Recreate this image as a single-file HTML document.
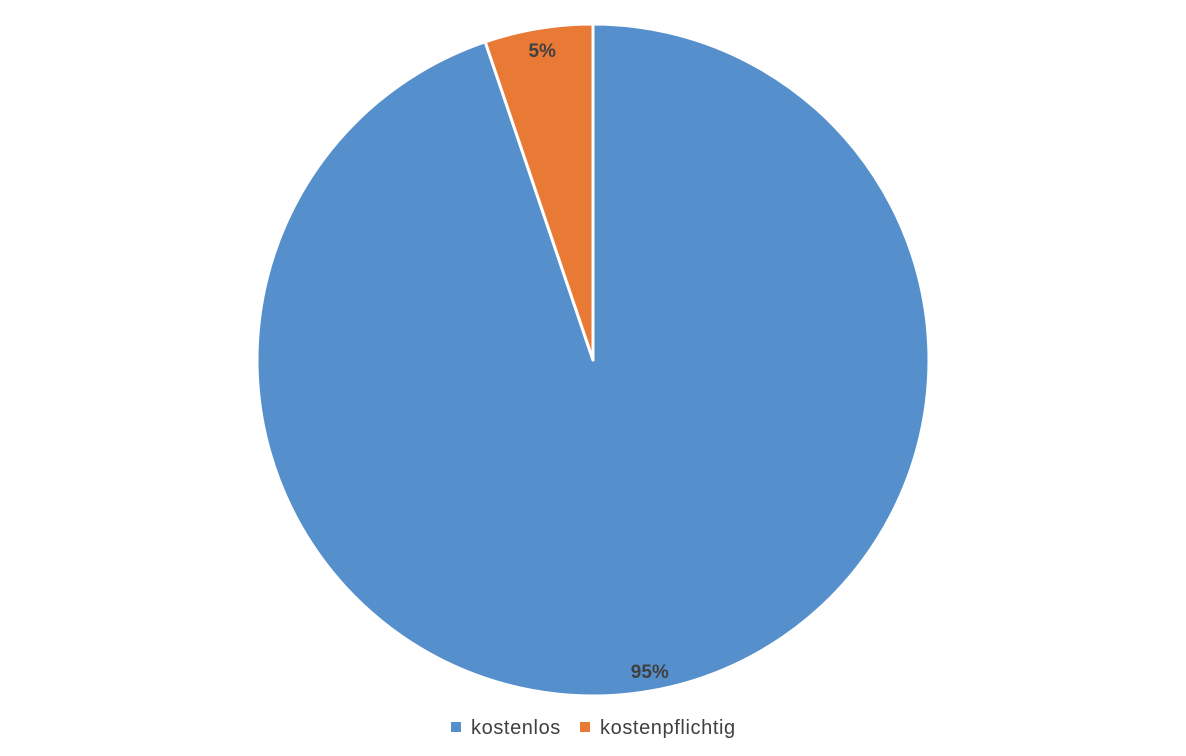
<!DOCTYPE html>
<html><head><meta charset="utf-8"><style>
body{margin:0;background:#fff;width:1186px;height:751px;overflow:hidden;font-family:"Liberation Sans",sans-serif}
</style></head><body>
<svg id="chart" width="1186" height="751" xmlns="http://www.w3.org/2000/svg"></svg>
<script>
const categories = ["kostenlos", "kostenpflichtig"];
const values = [94.8, 5.2];
const labels = ["95%", "5%"];
const colors = ["#558fcc", "#e97a36"];
const svg = document.getElementById('chart');
const NS = "http://www.w3.org/2000/svg";
const cx = 593, cy = 360, r = 336;
const total = values.reduce((a, b) => a + b, 0);
let start = 0;
function pt(frac, rad) {
  const a = frac * 2 * Math.PI - Math.PI / 2;
  return [cx + rad * Math.cos(a), cy + rad * Math.sin(a)];
}
const labelOffset = [[6, 4], [0, 0]];
values.forEach((v, i) => {
  const f0 = start / total, f1 = (start + v) / total;
  const p0 = pt(f0, r), p1 = pt(f1, r);
  const large = (f1 - f0) > 0.5 ? 1 : 0;
  const path = document.createElementNS(NS, 'path');
  path.setAttribute('d', `M${cx},${cy} L${p0[0]},${p0[1]} A${r},${r} 0 ${large} 1 ${p1[0]},${p1[1]} Z`);
  path.setAttribute('fill', colors[i]);
  path.setAttribute('stroke', '#fff');
  path.setAttribute('stroke-width', '3');
  path.setAttribute('stroke-linejoin', 'round');
  
  
  svg.appendChild(path);
  const mid = (f0 + f1) / 2;
  const lp = pt(mid, r * 0.93);
  const t = document.createElementNS(NS, 'text');
  t.setAttribute('x', lp[0] + labelOffset[i][0]);
  t.setAttribute('y', lp[1] + labelOffset[i][1]);
  t.setAttribute('text-anchor', 'middle');
  t.setAttribute('dominant-baseline', 'central');
  t.setAttribute('font-size', '19');
  t.setAttribute('font-weight', 'bold');
  t.setAttribute('fill', '#404040');
  
  
  t.textContent = labels[i];
  svg.appendChild(t);
  start += v;
});
const legendX = [451, 580];
categories.forEach((c, i) => {
  const g = document.createElementNS(NS, 'g');
  
  
  const rect = document.createElementNS(NS, 'rect');
  rect.setAttribute('x', legendX[i]);
  rect.setAttribute('y', 722);
  rect.setAttribute('width', 10);
  rect.setAttribute('height', 10);
  rect.setAttribute('fill', colors[i]);
  g.appendChild(rect);
  const t = document.createElementNS(NS, 'text');
  t.setAttribute('x', legendX[i] + 20);
  t.setAttribute('y', 734);
  t.setAttribute('font-size', '20');
  t.setAttribute('letter-spacing', '0.6');
  t.setAttribute('fill', '#404040');
  t.textContent = c;
  g.appendChild(t);
  svg.appendChild(g);
});
</script>
</body></html>
